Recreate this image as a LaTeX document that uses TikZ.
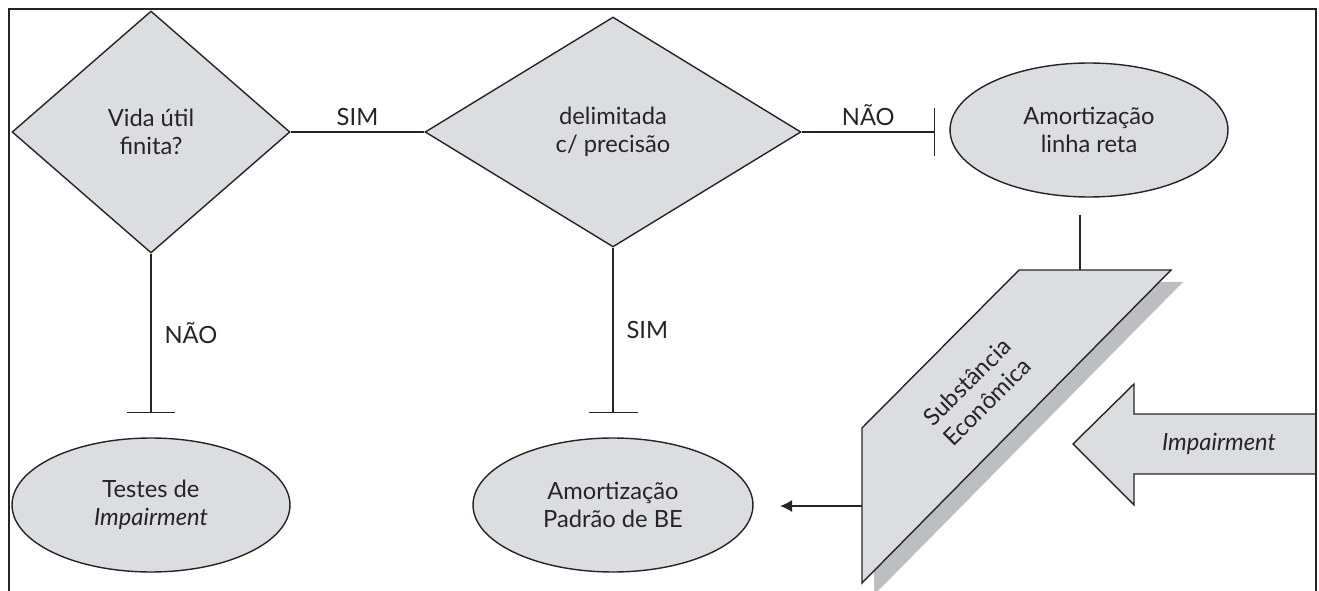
\documentclass[tikz,border=0pt]{standalone}
\usepackage{fontspec}
\setmainfont{Lato}
\usetikzlibrary{shapes.geometric,arrows.meta}
\definecolor{boxgray}{RGB}{220,221,224}
\definecolor{shadegray}{RGB}{189,190,193}
\definecolor{inkgray}{RGB}{38,36,37}

\begin{document}
\begin{tikzpicture}[x=0.02cm, y=-0.02cm, line width=0.8pt, color=inkgray,
  every node/.style={font=\fontsize{13.5}{16}\selectfont, align=center},
  decision/.style={diamond, draw, fill=boxgray, inner sep=0pt},
  outcome/.style={ellipse, draw, fill=boxgray, inner sep=0pt, minimum width=5.56cm, minimum height=2.68cm},
  tee/.style={-{Bar[width=0.98cm]}}]
\useasboundingbox (0,0) rectangle (1319,591);

\node[decision, minimum width=5.56cm, minimum height=4.84cm] (finita) at (151,132) {Vida útil\\finita?};
\node[decision, minimum width=7.52cm, minimum height=4.6cm] (precisao) at (613,132) {delimitada\\c/ precisão};
\node[outcome] (linhareta) at (1089,130) {Amortização\\linha reta};
\node[outcome] (testes) at (151,505) {Testes de\\\textit{Impairment}};
\node[outcome, minimum width=5.6cm] (padrao) at (613,505) {Amortização\\Padrão de BE};

\coordinate (naotop) at (935,132);
\coordinate (naoleft) at (151,413);
\coordinate (simdown) at (613,413);
\coordinate (linhagap) at (1080,215);
\coordinate (substop) at (1080,270);
\coordinate (subsleft) at (862,506);
\coordinate (seta) at (780,506);

\draw (finita) -- (precisao) node[midway, above] {SIM};
\draw[tee] (precisao) -- (naotop) node[midway, above] {NÃO};
\draw[tee] (finita) -- (naoleft) node[midway, right=4pt] {NÃO};
\draw[tee] (precisao) -- (simdown) node[midway, right=4pt] {SIM};

\fill[shadegray] (1031,282) -- (1183,282) -- (874,595) -- (874,440) -- cycle;
\filldraw[fill=boxgray] (1019,270) -- (1171,270) -- (862,583) -- (862,428) -- cycle;
\node[rotate=45] (substancia) at (977,392) {Substância\\Econômica};
\draw (linhagap) -- (substop);
\draw[-{Latex[length=0.24cm, width=0.24cm]}] (subsleft) -- (seta);

\filldraw[fill=boxgray] (1316,414) -- (1134,414) -- (1134,384) -- (1073,444) -- (1134,505) -- (1134,474) -- (1316,474);
\node (impairment) at (1219,444) {\textit{Impairment}};

\draw (9,591) -- (9,9) -- (1316,9) -- (1316,591);
\end{tikzpicture}
\end{document}
